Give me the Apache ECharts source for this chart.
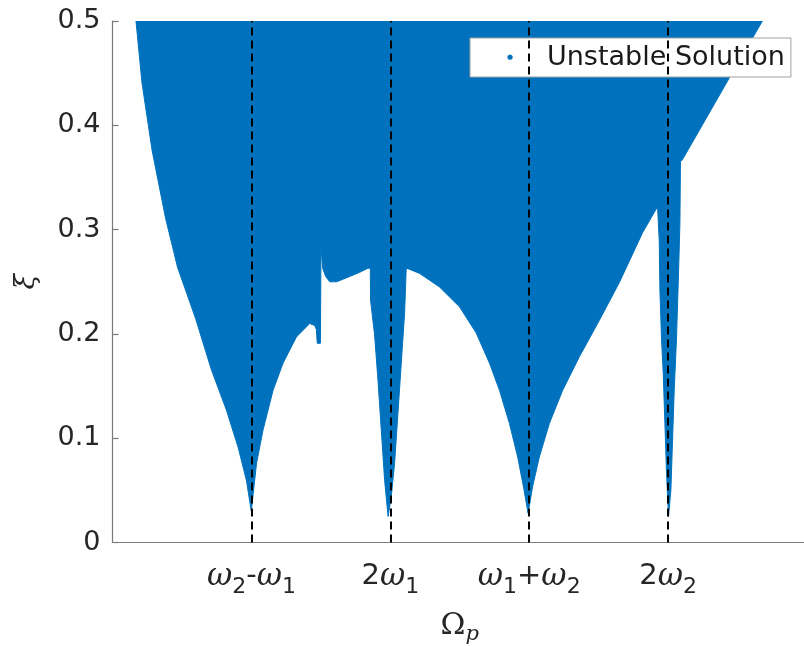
<!DOCTYPE html>
<html>
<head>
<meta charset="utf-8">
<script src="https://cdn.jsdelivr.net/npm/echarts@6/dist/echarts.min.js"></script>
<style>
  html, body { margin: 0; padding: 0; background: #fff; }
  #chart { width: 804px; height: 646px; }
</style>
</head>
<body>
<div id="chart"></div>
<script>
// Lower edge of the unstable region: forcing frequency Ω_p (in units of ω1)
// and the damping ratio ξ above which the response is unstable.
const omegaP = [
  0.169, 0.212, 0.285, 0.382, 0.468, 0.600, 0.711, 0.820, 0.905, 0.965, 0.999,
  1.037, 1.084, 1.156, 1.228, 1.324, 1.420,
  1.456, 1.468, 1.474, 1.497, 1.501, 1.509, 1.513,
  1.535, 1.564, 1.614, 1.707, 1.779, 1.839, 1.856,
  1.858, 1.887, 1.911, 1.935, 1.959, 1.984,
  2.007, 2.031, 2.055, 2.079, 2.103, 2.114,
  2.119, 2.211, 2.354, 2.498, 2.618, 2.714, 2.786, 2.858, 2.917, 2.958, 2.992,
  3.025, 3.073, 3.145, 3.241, 3.361, 3.505, 3.648, 3.816, 3.924,
  3.931, 3.936, 3.941, 3.953, 3.965, 3.977, 3.989, 4.003,
  4.020, 4.032, 4.044, 4.060, 4.075, 4.085, 4.089,
  4.103, 4.439, 4.679
];
const xiLow = [
  0.500, 0.441, 0.376, 0.311, 0.264, 0.214, 0.166, 0.127, 0.091, 0.059, 0.030,
  0.076, 0.108, 0.146, 0.172, 0.197, 0.210,
  0.208, 0.204, 0.191, 0.191, 0.284, 0.284, 0.263,
  0.255, 0.250, 0.250, 0.255, 0.259, 0.263, 0.263,
  0.232, 0.199, 0.156, 0.108, 0.060, 0.025,
  0.044, 0.076, 0.124, 0.172, 0.220, 0.261,
  0.263, 0.258, 0.245, 0.226, 0.201, 0.172, 0.146, 0.114, 0.082, 0.054, 0.028,
  0.054, 0.082, 0.114, 0.146, 0.178, 0.213, 0.249, 0.297, 0.322,
  0.322, 0.290, 0.242, 0.194, 0.162, 0.114, 0.066, 0.025,
  0.050, 0.098, 0.146, 0.194, 0.258, 0.306, 0.365,
  0.367, 0.445, 0.500
];

// Combination resonance frequencies marked on the Ω_p axis
const tickValues = [1, 2, 3, 4];
const tickLabels = [
  '{w|ω}{s|2}{t|-}{w|ω}{s|1}',
  '{t|2}{w|ω}{s|1}',
  '{w|ω}{s|1}{t|+}{w|ω}{s|2}',
  '{t|2}{w|ω}{s|2}'
];
const yTicks = [0, 0.1, 0.2, 0.3, 0.4, 0.5];
const seriesName = 'Unstable Solution';

const BLUE = '#0072BD';
const AXIS = '#7a7a7a';
const TEXT = '#262626';
const SANS = 'DejaVu Sans';
const SERIF = 'DejaVu Serif';

const boundary = omegaP.map((x, i) => [x, xiLow[i]]);

const chart = echarts.init(document.getElementById('chart'), null, { renderer: 'canvas' });
chart.setOption({
  animation: false,
  backgroundColor: '#fff',
  grid: {
    left: 112.5, right: -3, top: 21, bottom: 103.5,
    containLabel: false, outerBoundsMode: 'none'
  },
  legend: {
    data: [seriesName],
    left: 470,
    top: 38,
    orient: 'horizontal',
    icon: 'none',
    itemWidth: 0,
    itemHeight: 0,
    itemGap: 0,
    padding: [6, 6, 6, 3],
    backgroundColor: '#fff',
    borderColor: '#a0a0a0',
    borderWidth: 1,
    borderRadius: 0,
    formatter: name => '{d|●}{t|' + name + '}',
    textStyle: {
      rich: {
        d: { color: BLUE, fontFamily: SANS, fontSize: 7, width: 64, align: 'center' },
        t: { fontFamily: SANS, fontSize: 27, color: '#1a1a1a', padding: [0, 0, 0, 5] }
      }
    }
  },
  xAxis: {
    type: 'value',
    min: 0,
    max: 5,
    interval: 1,
    name: '{O|Ω}{p|p}',
    nameLocation: 'middle',
    nameGap: 64,
    nameTextStyle: {
      rich: {
        O: { fontFamily: SERIF, fontSize: 30, color: TEXT },
        p: { fontFamily: SERIF, fontStyle: 'italic', fontSize: 21, color: TEXT, padding: [18, 0, 0, 0] }
      }
    },
    splitLine: { show: false },
    axisLine: { show: true, onZero: false, lineStyle: { color: AXIS, width: 1.2 } },
    axisTick: { show: true, inside: true, length: 6, customValues: tickValues, lineStyle: { color: AXIS, width: 1.2 } },
    axisLabel: {
      show: true,
      margin: 12,
      customValues: tickValues,
      formatter: v => {
        const i = tickValues.indexOf(Math.round(v * 1000) / 1000);
        return i >= 0 ? tickLabels[i] : '';
      },
      rich: {
        w: { fontFamily: SERIF, fontStyle: 'italic', fontSize: 31, color: TEXT },
        t: { fontFamily: SANS, fontSize: 29, color: TEXT },
        s: { fontFamily: SANS, fontSize: 22, color: TEXT, padding: [22, 0, 0, 0] }
      }
    }
  },
  yAxis: {
    type: 'value',
    min: 0,
    max: 0.5,
    interval: 0.1,
    name: 'ξ',
    nameLocation: 'middle',
    nameGap: 72,
    nameRotate: 90,
    nameTextStyle: { fontFamily: SERIF, fontStyle: 'italic', fontSize: 28, color: TEXT },
    splitLine: { show: false },
    axisLine: { show: true, lineStyle: { color: AXIS, width: 1.2 } },
    axisTick: { show: true, inside: true, length: 6, lineStyle: { color: AXIS, width: 1.2 } },
    axisLabel: {
      margin: 12,
      fontFamily: SANS,
      fontSize: 27,
      color: TEXT,
      formatter: v => {
        const k = yTicks.findIndex(t => Math.abs(t - v) < 1e-9);
        return k >= 0 ? String(yTicks[k]) : '';
      }
    }
  },
  series: [
    {
      name: seriesName,
      type: 'line',
      data: boundary,
      showSymbol: false,
      itemStyle: { color: BLUE },
      lineStyle: { color: BLUE, width: 1 },
      areaStyle: { color: BLUE, opacity: 1, origin: 'end' },
      clip: true,
      z: 2,
      markLine: {
        silent: true,
        symbol: ['none', 'none'],
        label: { show: false },
        lineStyle: { color: '#000', type: [8, 5], width: 2 },
        data: tickValues.map(v => ({ xAxis: v }))
      }
    }
  ]
});
</script>
</body>
</html>
